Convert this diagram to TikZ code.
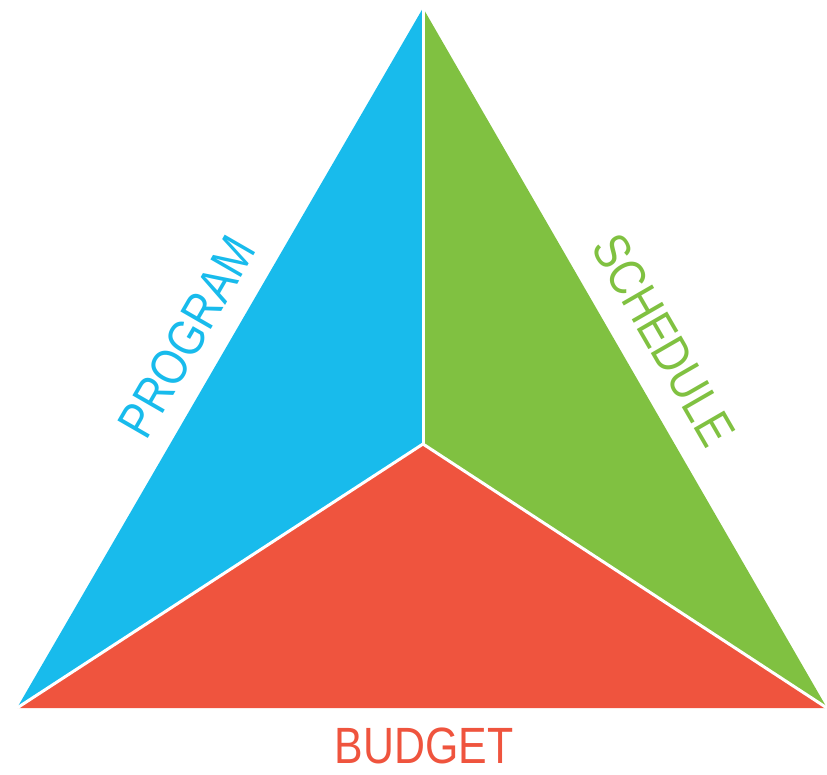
\documentclass[tikz,border=0pt]{standalone}
\usepackage{fontspec}
\setmainfont{Liberation Sans}
\usepackage{tikz}
\usetikzlibrary{positioning,calc}
\definecolor{progblue}{RGB}{24,187,236}
\definecolor{schedgreen}{RGB}{128,193,65}
\definecolor{budgetred}{RGB}{239,84,62}
\tikzset{
    split/.style={draw=white, line width=3pt},
    label/.style={font=\fontsize{51}{51}\selectfont, inner sep=0pt, xscale=0.84}
}

\begin{document}
\begin{tikzpicture}[x=1pt, y=-1pt]
    \useasboundingbox (0,0) rectangle (827,774);
    \coordinate (top) at (423,8);
    \coordinate (mid) at (423,444);
    \coordinate (left) at (17,708);
    \coordinate (right) at (827,708);

    % three faces of the triangle
    \fill[progblue] (top) -- (mid) -- (left) -- cycle;
    \fill[schedgreen] (top) -- (right) -- (mid) -- cycle;
    \fill[budgetred] (left) -- (mid) -- (right) -- cycle;

    % white seams between the faces
    \draw[split] (mid) -- (top);
    \draw[split] (mid) -- (left);
    \draw[split] (mid) -- (right);

    \node[rotate=60, label, text=progblue] (program) at (187,337) {PROGRAM};
    \node[rotate=-60, label, text=schedgreen] (schedule) at (664,340) {SCHEDULE};
    \node[label, text=budgetred] (budget) at (424,746) {BUDGET};
\end{tikzpicture}
\end{document}
